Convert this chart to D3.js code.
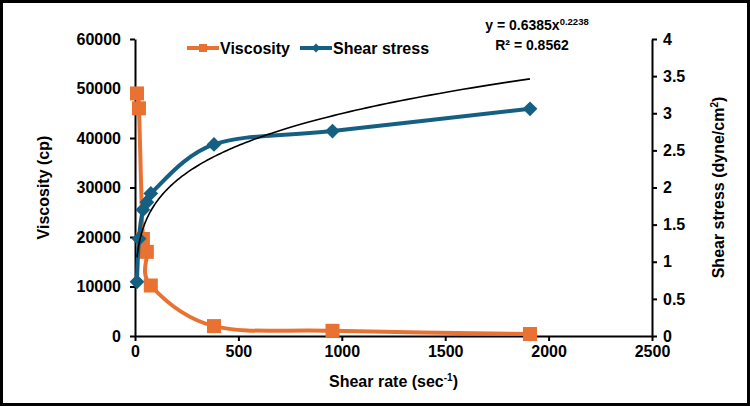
<!DOCTYPE html>
<html>
<head>
<meta charset="utf-8">
<script src="https://cdn.jsdelivr.net/npm/d3@7"></script>
<style>
  body { margin: 0; background: #fff; }
  svg { display: block; font-family: "Liberation Sans", Arial, sans-serif; font-weight: bold; }
</style>
</head>
<body>
<svg id="chart" width="750" height="406"></svg>
<script>
// shear rate (sec-1), shared by both series
const shearRate = [9.55, 19.1, 38.2, 57.3, 76.4, 382, 955, 1910];
const viscosity = [49000, 46000, 19600, 17000, 10200, 2000, 1050, 400];
const shearStress = [0.73, 1.31, 1.70, 1.80, 1.92, 2.58, 2.76, 3.06];
// power trendline fitted to shear stress
const trendA = 0.6385;
const trendB = 0.2238;
const xTicks = [0, 500, 1000, 1500, 2000, 2500];
const yLeftTicks = [0, 10000, 20000, 30000, 40000, 50000, 60000];
const yRightTicks = [0, 0.5, 1, 1.5, 2, 2.5, 3, 3.5, 4];

const orange = "#E97132";
const blue = "#156082";

const svg = d3.select("#chart");
const width = 750, height = 406;
const margin = {top: 39, right: 98, bottom: 70, left: 135};

// frame round the whole picture
svg.append("rect")
    .attr("x", 1.5).attr("y", 1.5)
    .attr("width", width - 3).attr("height", height - 3)
    .attr("fill", "none").attr("stroke", "#000").attr("stroke-width", 3);

const x = d3.scaleLinear().domain([0, 2500]).range([margin.left, width - margin.right]);
const yL = d3.scaleLinear().domain([0, 60000]).range([height - margin.bottom, margin.top]);
const yR = d3.scaleLinear().domain([0, 4]).range([height - margin.bottom, margin.top]);

const plain = d => String(d);
const xAxis = d3.axisBottom(x).tickValues(xTicks).tickFormat(plain).tickSize(5).tickSizeOuter(0).tickPadding(5);
const leftAxis = d3.axisLeft(yL).tickValues(yLeftTicks).tickFormat(plain).tickSize(5).tickSizeOuter(0).tickPadding(9);
const rightAxis = d3.axisRight(yR).tickValues(yRightTicks).tickFormat(plain).tickSize(5).tickSizeOuter(0).tickPadding(6);

function styleAxis(g) {
    g.selectAll("path.domain").attr("stroke", "#000").attr("stroke-width", 2);
    g.selectAll(".tick line").attr("stroke", "#000").attr("stroke-width", 2);
    g.selectAll(".tick text").attr("fill", "#000")
        .style("font-size", "16px").style("font-weight", "bold")
        .style("font-family", "'Liberation Sans', Arial, sans-serif");
}

svg.append("g").attr("transform", `translate(0,${height - margin.bottom})`).call(xAxis).call(styleAxis);
svg.append("g").attr("transform", `translate(${margin.left},0)`).call(leftAxis).call(styleAxis);
svg.append("g").attr("transform", `translate(${width - margin.right},0)`).call(rightAxis).call(styleAxis);

// axis titles
const xt = svg.append("text")
    .attr("x", (margin.left + width - margin.right) / 2).attr("y", 387)
    .attr("text-anchor", "middle").style("font-size", "16px");
xt.append("tspan").text("Shear rate (sec");
xt.append("tspan").attr("dy", -6).style("font-size", "10px").text("-1");
xt.append("tspan").attr("dy", 6).text(")");

svg.append("text")
    .attr("transform", `translate(49,${(margin.top + height - margin.bottom) / 2}) rotate(-90)`)
    .attr("text-anchor", "middle").style("font-size", "16px")
    .text("Viscosity (cp)");

const rt = svg.append("text")
    .attr("transform", `translate(724,${(margin.top + height - margin.bottom) / 2}) rotate(-90)`)
    .attr("text-anchor", "middle").style("font-size", "16px");
rt.append("tspan").text("Shear stress (dyne/cm");
rt.append("tspan").attr("dy", -6).style("font-size", "10px").text("2");
rt.append("tspan").attr("dy", 6).text(")");

// series
const viscData = shearRate.map((r, i) => ({x: r, y: viscosity[i]}));
const stressData = shearRate.map((r, i) => ({x: r, y: shearStress[i]}));

const lineL = d3.line().x(d => x(d.x)).y(d => yL(d.y)).curve(d3.curveCardinal.tension(0));
const lineR = d3.line().x(d => x(d.x)).y(d => yR(d.y)).curve(d3.curveCardinal.tension(0));

svg.append("path").datum(viscData)
    .attr("fill", "none").attr("stroke", orange).attr("stroke-width", 4)
    .attr("d", lineL);

svg.selectAll(".sq").data(viscData).enter().append("rect")
    .attr("class", "sq")
    .attr("x", d => x(d.x) - 7).attr("y", d => yL(d.y) - 7)
    .attr("width", 14).attr("height", 14)
    .attr("fill", orange);

svg.append("path").datum(stressData)
    .attr("fill", "none").attr("stroke", blue).attr("stroke-width", 4)
    .attr("d", lineR);

const diamond = d3.symbol().type(d3.symbolSquare).size(110);
svg.selectAll(".dm").data(stressData).enter().append("path")
    .attr("class", "dm")
    .attr("transform", d => `translate(${x(d.x)},${yR(d.y)}) rotate(45)`)
    .attr("d", diamond)
    .attr("fill", blue);

// trendline
const trendX = d3.range(0, 201).map(i => shearRate[0] * Math.pow(shearRate[shearRate.length - 1] / shearRate[0], i / 200));
const trendData = trendX.map(v => ({x: v, y: trendA * Math.pow(v, trendB)}));
svg.append("path").datum(trendData)
    .attr("fill", "none").attr("stroke", "#000").attr("stroke-width", 1.6)
    .attr("d", d3.line().x(d => x(d.x)).y(d => yR(d.y)));

// legend
const legend = [
    {name: "Viscosity", color: orange, marker: "sq", x0: 187},
    {name: "Shear stress", color: blue, marker: "dm", x0: 300}
];
const lg = svg.append("g");
legend.forEach(l => {
    lg.append("line").attr("x1", l.x0).attr("x2", l.x0 + 32).attr("y1", 48).attr("y2", 48)
        .attr("stroke", l.color).attr("stroke-width", 4);
    if (l.marker === "sq") {
        lg.append("rect").attr("x", l.x0 + 12).attr("y", 44).attr("width", 8).attr("height", 8).attr("fill", l.color);
    } else {
        lg.append("path").attr("transform", `translate(${l.x0 + 16},48) rotate(45)`)
            .attr("d", d3.symbol().type(d3.symbolSquare).size(40)).attr("fill", l.color);
    }
    lg.append("text").attr("x", l.x0 + 33).attr("y", 54).style("font-size", "16px").text(l.name);
});

// equation
const eq = svg.append("text").attr("x", 537).attr("y", 30).attr("text-anchor", "middle").style("font-size", "14px");
eq.append("tspan").text("y = 0.6385x");
eq.append("tspan").attr("dy", -5).style("font-size", "9.5px").text("0.2238");
svg.append("text").attr("x", 532).attr("y", 50).attr("text-anchor", "middle").style("font-size", "14px")
    .text("R² = 0.8562");
</script>
</body>
</html>
